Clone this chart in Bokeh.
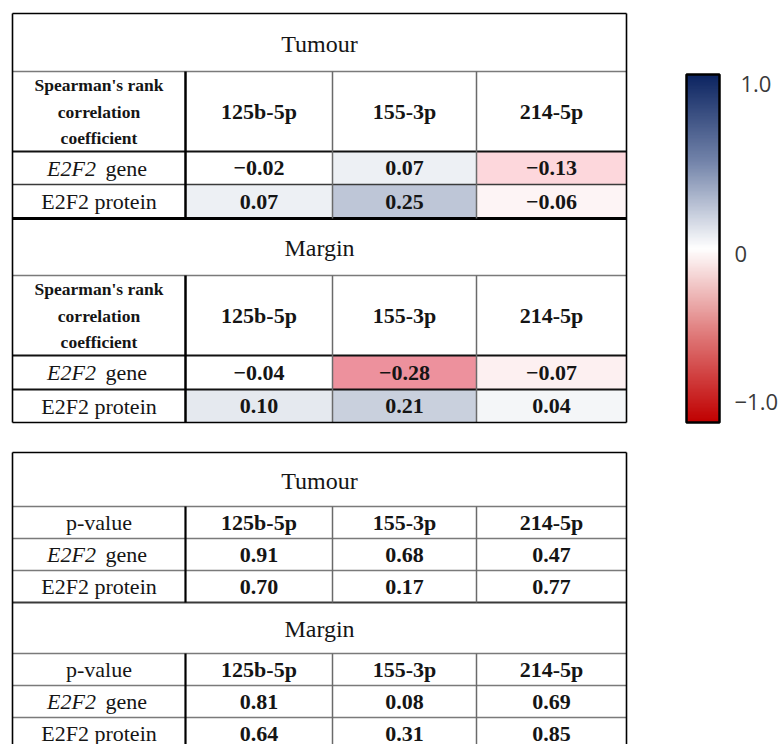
import numpy as np
from bokeh.plotting import figure
from bokeh.models import Range1d, ColumnDataSource, LinearColorMapper, ColorBar, FixedTicker
from bokeh.core.properties import value, field
from bokeh.embed import file_html
from bokeh.resources import INLINE

# ---------------- data ----------------
mirnas = ["125b-5p", "155-3p", "214-5p"]
sections = ["Tumour", "Margin"]
corr_header = ["Spearman's rank", "correlation", "coefficient"]
p_header = "p-value"
rho_tumour_gene = [-0.02, 0.07, -0.13]
rho_tumour_protein = [0.07, 0.25, -0.06]
rho_margin_gene = [-0.04, -0.28, -0.07]
rho_margin_protein = [0.10, 0.21, 0.04]
p_tumour_gene = [0.91, 0.68, 0.47]
p_tumour_protein = [0.70, 0.17, 0.77]
p_margin_gene = [0.81, 0.08, 0.69]
p_margin_protein = [0.64, 0.31, 0.85]
colorbar_tick_labels = ["1.0", "0", "−1.0"]

# ---------------- layout / style ----------------
W, H = 779, 744
FONT = "Liberation Serif"
INK = "#151515"
col_edges = [12, 185, 332, 476, 626]
top_rows = [13, 71, 151, 184, 218, 275, 355, 389, 422]
bot_rows = [452, 506, 538, 570, 602, 653, 685, 717, 749]
bar_left, bar_top, bar_w, bar_h = 686, 74, 33, 348
# colorbar label anchor positions (in bar value units) as drawn in the reference
cb_label_anchor = [0.948, -0.029, -0.885]


def lerp_palette(anchors, n, lo, hi):
    vals = np.array([a[0] for a in anchors])
    rgb = np.array([[int(a[1][i:i + 2], 16) for i in (1, 3, 5)] for a in anchors], float)
    xs = np.linspace(lo, hi, n)
    out = []
    for x in xs:
        c = [np.interp(x, vals, rgb[:, k]) for k in range(3)]
        out.append("#%02x%02x%02x" % tuple(int(round(v)) for v in c))
    return out


cell_anchors = [(-1.0, "#c00000"), (-0.28, "#ed919d"), (-0.13, "#fdd8dc"),
                (-0.065, "#fdf1f2"), (-0.045, "#ffffff"), (0.0, "#ffffff"),
                (0.25, "#bfc7d7"), (1.0, "#0d2a66")]
bar_anchors = [(-1.0, "#c00000"), (-0.5, "#df7878"), (0.0, "#ffffff"),
               (0.5, "#7384aa"), (1.0, "#0c2461")]
cell_mapper = LinearColorMapper(palette=lerp_palette(cell_anchors, 512, -1, 1), low=-1, high=1)
bar_mapper = LinearColorMapper(palette=lerp_palette(bar_anchors, 256, -1, 1), low=-1, high=1)

p = figure(width=W, height=H, x_range=Range1d(0, W), y_range=Range1d(H, 0),
           output_backend="svg", toolbar_location=None, min_border=0,
           x_axis_location=None, y_axis_location=None)
p.grid.visible = False
p.outline_line_color = None
p.background_fill_color = "white"

# ---------------- cells ----------------
rho_blocks = [[rho_tumour_gene, rho_tumour_protein], [rho_margin_gene, rho_margin_protein]]
p_blocks = [[p_tumour_gene, p_tumour_protein], [p_margin_gene, p_margin_protein]]

cl, cr, ct, cb, cv = [], [], [], [], []
for s in range(2):
    for r in range(2):
        for c in range(3):
            cl.append(col_edges[c + 1]); cr.append(col_edges[c + 2])
            ct.append(top_rows[s * 4 + 2 + r]); cb.append(top_rows[s * 4 + 3 + r])
            cv.append(rho_blocks[s][r][c])
cell_src = ColumnDataSource(dict(left=cl, right=cr, top=ct, bottom=cb, val=cv))
p.quad(left="left", right="right", top="top", bottom="bottom", source=cell_src,
       fill_color={"field": "val", "transform": cell_mapper}, line_color=None)

# ---------------- lines ----------------
segs = dict(x0=[], y0=[], x1=[], y1=[], color=[], width=[])


def seg(x0, y0, x1, y1, color, width):
    segs["x0"].append(x0); segs["y0"].append(y0)
    segs["x1"].append(x1); segs["y1"].append(y1)
    segs["color"].append(color); segs["width"].append(width)


L, R = col_edges[0], col_edges[-1]
GRAY = "#7a7a7a"
DARK = "#3a3a3a"
top_h_style = [(GRAY, 1.5), ("#111111", 2.2), (DARK, 1.5), ("#000000", 3.0),
               (GRAY, 1.5), ("#111111", 2.2), ("#111111", 2.2)]
for i, (col, w) in enumerate(top_h_style):
    seg(L, top_rows[i + 1], R, top_rows[i + 1], col, w)
for s in range(2):
    y0, y1 = top_rows[s * 4 + 1], top_rows[s * 4 + 4]
    seg(col_edges[1], y0, col_edges[1], y1, "#000000", 2.5)
    for x in col_edges[2:4]:
        seg(x, y0, x, y1, "#6a6a6a", 1.5)
bot_h_style = [(GRAY, 1.5), (GRAY, 1.5), (GRAY, 1.5), (DARK, 1.8), (GRAY, 1.5), (GRAY, 1.5), (GRAY, 1.5)]
for i, (col, w) in enumerate(bot_h_style):
    seg(L, bot_rows[i + 1], R, bot_rows[i + 1], col, w)
for s in range(2):
    y0, y1 = bot_rows[s * 4 + 1], bot_rows[s * 4 + 4]
    seg(col_edges[1], y0, col_edges[1], y1, "#000000", 2.2)
    for x in col_edges[2:4]:
        seg(x, y0, x, y1, "#6a6a6a", 1.5)
for rows in (top_rows, bot_rows):
    t, b = rows[0], rows[-1]
    seg(L, t, R, t, "#000000", 1.6); seg(L, b, R, b, "#000000", 1.6)
    seg(L, t, L, b, "#000000", 1.6); seg(R, t, R, b, "#000000", 1.6)
p.segment(x0="x0", y0="y0", x1="x1", y1="y1", line_color="color", line_width="width",
          source=ColumnDataSource(segs))

# ---------------- texts ----------------
tx = dict(x=[], y=[], text=[], size=[], style=[], align=[])


def txt(x, y, t, size, style="normal", align="center"):
    tx["x"].append(x); tx["y"].append(y); tx["text"].append(t)
    tx["size"].append(size); tx["style"].append(style); tx["align"].append(align)


def fmt(v):
    return f"{v:.2f}".replace("-", "−")


def mid(a, b):
    return (a + b) / 2.0


table_cx = mid(L, R)
lab_cx = mid(col_edges[0], col_edges[1])
for tbl, rows in enumerate((top_rows, bot_rows)):
    for s in range(2):
        base = s * 4
        txt(table_cx, mid(rows[base], rows[base + 1]) + 1, sections[s], "24px", "normal")
        hy = mid(rows[base + 1], rows[base + 2])
        if tbl == 0:
            for i, line in enumerate(corr_header):
                txt(lab_cx, hy + (i - 1) * 26.5, line, "17.5px", "bold")
        else:
            txt(lab_cx, hy, p_header, "22px", "normal")
        for c in range(3):
            cx = mid(col_edges[c + 1], col_edges[c + 2])
            txt(cx, hy, mirnas[c], "22px", "bold")
        gy = mid(rows[base + 2], rows[base + 3])
        py = mid(rows[base + 3], rows[base + 4])
        txt(lab_cx - 3, gy, "E2F2", "22px", "italic", "right")
        txt(lab_cx + 6.5, gy, "gene", "22px", "normal", "left")
        txt(lab_cx, py, "E2F2 protein", "22px", "normal")
        vals = rho_blocks[s] if tbl == 0 else p_blocks[s]
        for r, yy in enumerate((gy, py)):
            for c in range(3):
                cx = mid(col_edges[c + 1], col_edges[c + 2])
                txt(cx, yy, fmt(vals[r][c]), "22px", "bold")

p.text(x="x", y="y", text="text", source=ColumnDataSource(tx),
       text_font=value(FONT), text_font_size=field("size"), text_font_style=field("style"),
       text_align=field("align"), text_baseline="middle", text_color=INK)

# ---------------- colour bar ----------------
cbar = ColorBar(color_mapper=bar_mapper, orientation="vertical",
                location=(bar_left, H - (bar_top + bar_h)), width=bar_w, height=bar_h,
                padding=0, margin=0, ticker=FixedTicker(ticks=[]),
                major_label_text_alpha=0,
                major_tick_line_color=None, minor_tick_line_color=None,
                bar_line_color="black", bar_line_width=2.5,
                border_line_color=None, background_fill_color=None)
p.add_layout(cbar)

# colour-bar labels, placed along the bar's value scale
lab_y = [bar_top + (1 - a) / 2 * bar_h for a in cb_label_anchor]
lab_x = [bar_left + bar_w + 15 + (6 if l == "1.0" else 0) for l in colorbar_tick_labels]
p.text(x=lab_x, y=lab_y, text=colorbar_tick_labels, text_font=value("Open Sans"),
       text_font_size="22px", text_color="#3a3a3a", text_align="left", text_baseline="middle")

open("out.html", "w").write(file_html(p, INLINE))
